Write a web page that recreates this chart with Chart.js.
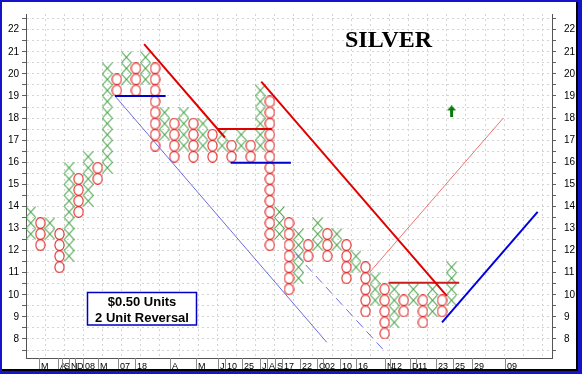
<!DOCTYPE html>
<html>
<head>
<meta charset="utf-8">
<script src="https://cdn.jsdelivr.net/npm/chart.js@4.4.1/dist/chart.umd.min.js"></script>
<style>
  body { margin: 0; }
  #frame { position: relative; width: 582px; height: 374px; background: #1414c8; }
  #inner { position: absolute; left: 2px; top: 2px; width: 574px; height: 367px; background: #fff; border-right: 2px solid #000; border-bottom: 2px solid #000; }
  #c { position: absolute; left: 0; top: 0; }
</style>
</head>
<body>
<div id="frame"><div id="inner"></div><canvas id="c" width="582" height="374"></canvas></div>
<script>
// --- DATA (point & figure, $0.50 box, 2 box reversal) ---
// column 0 is an X column, then they alternate X / O
const boxSize = 0.5;
const colLow  = [12.75, 12.25, 12.75, 11.25, 11.75, 13.75, 14.25, 15.25, 15.75, 19.25, 19.75, 19.25, 19.75, 16.75, 17.25, 16.25, 16.75, 16.25, 16.75, 16.25, 16.75, 16.25, 16.75, 16.25, 16.75, 12.25, 12.75, 10.25, 10.75, 11.75, 12.25, 11.75, 12.25, 10.75, 11.25, 9.25, 9.75, 8.25, 8.75, 9.25, 9.75, 8.75, 9.25, 9.25, 9.75];
const colHigh = [13.75, 13.25, 13.25, 12.75, 15.75, 15.25, 16.25, 15.75, 20.25, 19.75, 20.75, 20.25, 20.75, 20.25, 18.25, 17.75, 18.25, 17.75, 17.75, 17.25, 17.25, 16.75, 17.25, 16.75, 19.25, 18.75, 13.75, 13.25, 12.75, 12.25, 13.25, 12.75, 12.75, 12.25, 11.75, 11.25, 10.75, 10.25, 10.25, 9.75, 10.25, 9.75, 10.25, 9.75, 11.25];

// bottom strip labels and the column where each one sits
const monthLabels = ['M', 'A', 'S', 'N', 'D', '08', 'M', '07', '18', 'A', 'M', 'J', '10', '25', 'J', 'A', 'S', '17', '22', 'O', '02', '10', '16', 'N', '12', 'D', '11', '23', '25', '29', '09'];
const monthCols   = [0.85, 2.8, 3.3, 4.0, 4.6, 5.5, 7.05, 9.15, 10.9, 14.55, 17.3, 19.6, 20.35, 22.1, 23.95, 24.7, 25.5, 26.3, 28.2, 29.95, 30.6, 32.3, 34.05, 37.0, 37.6, 39.7, 40.3, 42.4, 44.2, 46.1, 49.6];

const yLabels = [8, 9, 10, 11, 12, 13, 14, 15, 16, 17, 18, 19, 20, 21, 22];

// trend lines [column, price]
const redTrend1  = [[11.85, 21.35], [20.3, 17.12]];
const redFlat1   = [[19.5, 17.5], [25.2, 17.5]];
const redTrend2  = [[24.1, 19.65], [43.5, 9.95]];
const redFlat2   = [[37.4, 10.55], [44.8, 10.55]];
const blueFlat1  = [[8.8, 19.0], [14.1, 19.0]];
const blueFlat2  = [[20.9, 15.98], [27.2, 15.98]];
const blueThin   = [[8.8, 19.0], [30.95, 7.85]];
const blueDash   = [[27.7, 11.85], [37.0, 7.45]];
const redThin    = [[35.4, 11.0], [49.4, 18.0]];
const blueUp     = [[43.0, 8.75], [53.0, 13.75]];
const buyArrow   = [44, 18.3];

// --- MARK SHAPES ---
function makeX() {
  const c = document.createElement('canvas');
  c.width = 11; c.height = 12;
  const g = c.getContext('2d');
  g.strokeStyle = '#3c9c3c'; g.lineWidth = 1.1;
  g.beginPath();
  g.moveTo(0.5, 0.5); g.lineTo(10.5, 11.5);
  g.moveTo(10.5, 0.5); g.lineTo(0.5, 11.5);
  g.stroke();
  return c;
}
function makeO() {
  const c = document.createElement('canvas');
  c.width = 11; c.height = 12;
  const g = c.getContext('2d');
  g.strokeStyle = '#e22a2a'; g.lineWidth = 1.1;
  g.beginPath();
  g.ellipse(5.5, 6, 4.6, 5.4, 0, 0, Math.PI * 2);
  g.stroke();
  return c;
}
function makeArrow() {
  const c = document.createElement('canvas');
  c.width = 9; c.height = 12;
  const g = c.getContext('2d');
  g.fillStyle = '#0a7a0a';
  g.beginPath();
  g.moveTo(4.5, 0); g.lineTo(9, 5); g.lineTo(6, 5); g.lineTo(6, 12);
  g.lineTo(3, 12); g.lineTo(3, 5); g.lineTo(0, 5); g.closePath();
  g.fill();
  return c;
}

// build the boxes from the column ranges
const xPts = [];
const oPts = [];
colLow.forEach((lo, i) => {
  for (let v = lo; v <= colHigh[i] + 1e-9; v += boxSize) {
    (i % 2 === 0 ? xPts : oPts).push({ x: i, y: v });
  }
});

const toPts = arr => arr.map(p => ({ x: p[0], y: p[1] }));
function lineSet(arr, color, width, dash) {
  return { type: 'line', data: toPts(arr), borderColor: color, borderWidth: width, borderDash: dash || [],
           pointRadius: 0, showLine: true, fill: false, tension: 0 };
}

// --- EXTRA DRAWING (labels strip, title, note box) ---
const decor = {
  id: 'decor',
  afterDraw(chart) {
    const ctx = chart.ctx;
    const xs = chart.scales.x;
    const area = chart.chartArea;
    ctx.save();
    ctx.font = '9px Arial, "Liberation Sans"';
    ctx.textAlign = 'left';
    ctx.textBaseline = 'alphabetic';
    monthLabels.forEach((lab, i) => {
      const px = Math.round(xs.getPixelForValue(monthCols[i])) + 0.5;
      ctx.strokeStyle = '#8a8a8a';
      ctx.lineWidth = 1;
      ctx.beginPath();
      ctx.moveTo(px, area.bottom);
      ctx.lineTo(px, area.bottom + 11);
      ctx.stroke();
      ctx.fillStyle = '#000';
      ctx.fillText(lab, px + 1.5, area.bottom + 10.5);
    });

    // title
    ctx.font = 'bold 24px "Times New Roman", "Liberation Serif"';
    ctx.fillStyle = '#000';
    ctx.fillText('SILVER', 345, 47);

    // note box
    ctx.fillStyle = '#fff';
    ctx.fillRect(87.5, 292.5, 109, 32.5);
    ctx.strokeStyle = '#0000c0';
    ctx.lineWidth = 1.5;
    ctx.strokeRect(87.5, 292.5, 109, 32.5);
    ctx.fillStyle = '#000';
    ctx.font = 'bold 13px Arial, "Liberation Sans"';
    ctx.textAlign = 'center';
    ctx.fillText('$0.50 Units', 142, 305.5);
    ctx.fillText('2 Unit Reversal', 142, 321.5);
    ctx.restore();
  }
};

const yMin = 7.14, yMax = 22.71;
const gridColor = '#d4d4d4';
const gridStyle = { color: gridColor, tickColor: '#606060', tickLength: 4, tickBorderDash: [] };
function halfTicks(scale) {
  const t = [];
  for (let v = 7.5; v <= 22.5; v += 0.5) t.push({ value: v });
  scale.ticks = t;
}
const yTickLabel = v => (yLabels.includes(v) ? String(v) : '');

new Chart(document.getElementById('c'), {
  type: 'scatter',
  data: {
    datasets: [
      lineSet(redTrend1, '#e00000', 2),
      lineSet(redFlat1, '#e00000', 2),
      lineSet(redTrend2, '#e00000', 2),
      lineSet(redFlat2, '#c81e1e', 2),
      lineSet(blueFlat1, '#0000c8', 2),
      lineSet(blueFlat2, '#0000c8', 2),
      lineSet(blueThin, '#6a6ae0', 1),
      lineSet(blueDash, '#6a6ae0', 1, [9, 6]),
      lineSet(redThin, '#f07070', 1),
      lineSet(blueUp, '#0000e0', 2),
      { data: [{ x: buyArrow[0], y: buyArrow[1] }], pointStyle: makeArrow(), pointRadius: 5 },
      { data: xPts, pointStyle: makeX(), pointRadius: 5 },
      { data: oPts, pointStyle: makeO(), pointRadius: 5 }
    ]
  },
  options: {
    responsive: false,
    animation: false,
    events: [],
    layout: { padding: { top: 2, left: 0, right: 0, bottom: 0 } },
    plugins: { legend: { display: false }, tooltip: { enabled: false } },
    scales: {
      x: {
        type: 'linear', min: -0.5, max: 54.5,
        afterBuildTicks: s => {
          const t = [];
          for (let v = -0.5; v <= 54.5; v += 2) t.push({ value: v });
          s.ticks = t;
        },
        afterFit: s => { s.height = 16; },
        ticks: { display: false },
        grid: { color: gridColor, drawTicks: false },
        border: { color: '#555', width: 1, dash: [2, 3] }
      },
      y: {
        position: 'left', min: yMin, max: yMax,
        afterBuildTicks: halfTicks,
        afterFit: s => { s.width = 26; },
        ticks: { callback: yTickLabel, autoSkip: false, color: '#000', padding: 3,
                 font: { family: 'Arial, "Liberation Sans"', size: 10 } },
        grid: gridStyle,
        border: { color: '#555', width: 1, dash: [2, 3] }
      },
      y2: {
        position: 'right', min: yMin, max: yMax,
        afterBuildTicks: halfTicks,
        afterFit: s => { s.width = 30; },
        ticks: { callback: yTickLabel, autoSkip: false, color: '#000', padding: 8,
                 font: { family: 'Arial, "Liberation Sans"', size: 10 } },
        grid: { drawOnChartArea: false, tickColor: '#606060', tickLength: 4, tickBorderDash: [] },
        border: { color: '#555', width: 1 }
      }
    }
  },
  plugins: [decor]
});
</script>
</body>
</html>
